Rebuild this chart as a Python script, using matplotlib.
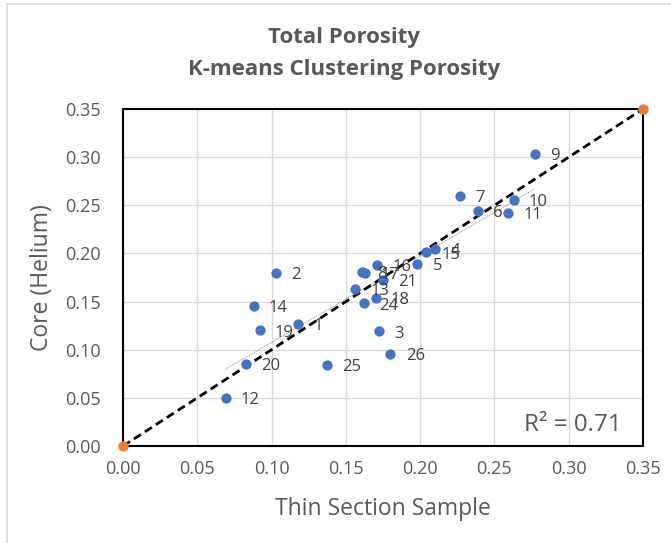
import numpy as np
import matplotlib
matplotlib.use("Agg")
import matplotlib.pyplot as plt
from matplotlib.lines import Line2D

# Sample numbers and porosity readings (thin section vs core helium)
sample_ids = [1, 2, 3, 4, 5, 6, 7, 8, 9, 10, 11, 12, 13, 14, 15, 16,
              17, 18, 19, 20, 21, 24, 25, 26]
thin_section = [0.118, 0.103, 0.172, 0.210, 0.198, 0.239, 0.227, 0.161,
                0.277, 0.263, 0.259, 0.069, 0.156, 0.088, 0.204, 0.171,
                0.163, 0.170, 0.092, 0.083, 0.175, 0.162, 0.137, 0.180]
core_helium = [0.127, 0.180, 0.119, 0.205, 0.189, 0.244, 0.260, 0.181,
               0.303, 0.256, 0.242, 0.050, 0.163, 0.145, 0.201, 0.188,
               0.180, 0.154, 0.120, 0.085, 0.172, 0.148, 0.084, 0.096]
one_to_one = [0.0, 0.35]
r2_text = "R² = 0.71"

ticks = [0.00, 0.05, 0.10, 0.15, 0.20, 0.25, 0.30, 0.35]

plt.rcParams['font.family'] = ['Open Sans', 'DejaVu Sans']
gray = "#595959"

fig = plt.figure(figsize=(6.71, 5.43), dpi=100)
ax = fig.add_axes([123/671, 1-446/543, 520/671, 337/543])

x = np.array(thin_section)
y = np.array(core_helium)

# linear trendline over the data range
m, c = np.polyfit(x, y, 1)
xt = np.array([x.min(), x.max()])
ax.plot(xt, m*xt + c, color="#8c8c8c", lw=0.7, ls=(0, (1, 1)), zorder=2)

# 1:1 line
ax.plot(one_to_one, one_to_one, color="black", lw=2.0, ls=(0, (3, 1.7)),
        zorder=3, clip_on=False)
ax.scatter(one_to_one, one_to_one, s=42, color="#ED7D31", zorder=5, clip_on=False)

ax.scatter(x, y, s=55, color="#4472C4", zorder=4, linewidths=0)
for sid, xi, yi in zip(sample_ids, x, y):
    ax.annotate(str(sid), (xi, yi), xytext=(11, -1.5), textcoords="offset points",
                ha="left", va="center", fontsize=12, color="#404040", zorder=6)

ax.set_xlim(0, 0.35)
ax.set_ylim(0, 0.35)
ax.set_xticks(ticks)
ax.set_yticks(ticks)
ax.set_xticklabels([f"{t:.2f}" for t in ticks])
ax.set_yticklabels([f"{t:.2f}" for t in ticks])
ax.tick_params(length=0, labelsize=13, colors=gray)
ax.tick_params(axis="x", pad=10)
ax.tick_params(axis="y", pad=16)
ax.grid(True, color="#D9D9D9", lw=1)
ax.set_axisbelow(True)
for sp in ax.spines.values():
    sp.set_color("black")
    sp.set_linewidth(1.5)

ax.text(0.96, 0.062, r2_text, transform=ax.transAxes, ha="right", va="center",
        fontsize=17.5, color=gray)

ax.set_xlabel("Thin Section Sample", fontsize=16.5, color=gray, labelpad=14)
ax.set_ylabel("Core (Helium)", fontsize=16.5, color=gray, labelpad=8)

fig.text(344/671, 1-37/543, "Total Porosity", ha="center", va="center",
         fontsize=16, fontweight="bold", color=gray)
fig.text(344/671, 1-69/543, "K-means Clustering Porosity", ha="center", va="center",
         fontsize=16, fontweight="bold", color=gray)

# chart border (left and top edges visible)
fig.add_artist(Line2D([6.5/671, 6.5/671], [0, 1-4/543], transform=fig.transFigure,
                      color="#D9D9D9", lw=1.2))
fig.add_artist(Line2D([6.5/671, 1], [1-4/543, 1-4/543], transform=fig.transFigure,
                      color="#D9D9D9", lw=1.2))

fig.savefig("out.png", dpi=100)
